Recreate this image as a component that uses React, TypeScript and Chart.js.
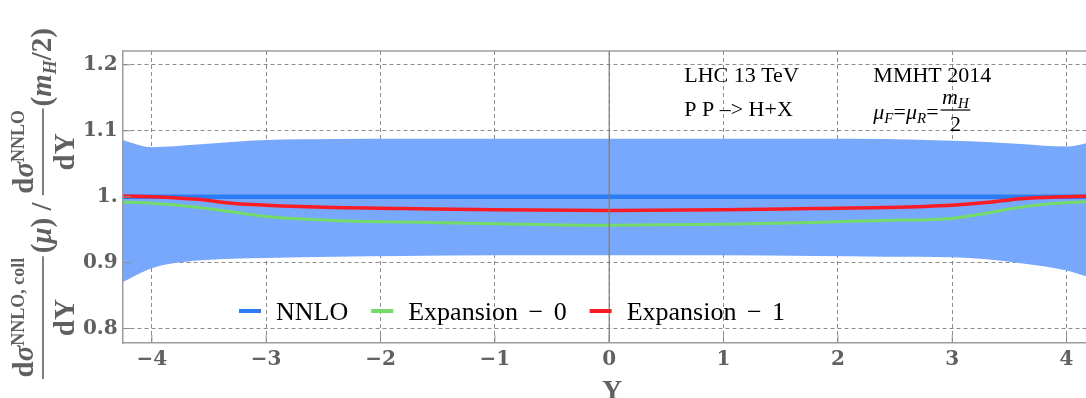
import React, { useEffect, useRef } from 'react';
import { Chart, registerables } from 'chart.js';

Chart.register(...registerables);

// ---- data ----
const rapidity = [-4.26, -4, -3.6, -3.3, -3, -2.4, -1.8, -1, 0, 1, 1.8, 2.4, 3, 3.3, 3.6, 4, 4.26];
const bandUpper = [1.086, 1.075, 1.079, 1.083, 1.086, 1.0875, 1.088, 1.088, 1.088, 1.088, 1.088, 1.0875, 1.085, 1.083, 1.080, 1.076, 1.085];
const bandLower = [0.870, 0.8915, 0.903, 0.906, 0.907, 0.909, 0.910, 0.911, 0.911, 0.911, 0.910, 0.909, 0.908, 0.905, 0.899, 0.888, 0.874];
const nnlo = [1, 1, 1, 1, 1, 1, 1, 1, 1, 1, 1, 1, 1, 1, 1, 1, 1];
const expansion0 = [0.992, 0.990, 0.984, 0.977, 0.970, 0.964, 0.9615, 0.959, 0.9565, 0.958, 0.961, 0.964, 0.967, 0.975, 0.984, 0.991, 0.993];
const expansion1 = [1.001, 1.000, 0.996, 0.990, 0.987, 0.9835, 0.982, 0.980, 0.979, 0.980, 0.982, 0.9835, 0.987, 0.991, 0.997, 1.000, 1.001];
const seriesLabels = ['NNLO', 'Expansion \u2212 0', 'Expansion \u2212 1'];
const xTickValues = [-4, -3, -2, -1, 0, 1, 2, 3, 4];
const xTickLabels = ['\u22124', '\u22123', '\u22122', '\u22121', '0', '1', '2', '3', '4'];
const yTickValues = [0.8, 0.9, 1.0, 1.1, 1.2];
const yTickLabels = ['0.8', '0.9', '1.', '1.1', '1.2'];
const infoLeft = ['LHC 13 TeV', 'P P \u2013> H+X'];
const infoRight = 'MMHT 2014';

// ---- styles ----
const BAND = 'rgb(120,168,252)';
const BLUE = 'rgb(44,124,246)';
const GREEN = 'rgb(116,218,104)';
const RED = 'rgb(250,28,36)';
const TXT = '#606060';
const FRAME = '#9c9c9c';
const SERIF = '"Liberation Serif", "Times New Roman", serif';

const pts = (ys: number[]) => rapidity.map((x, i) => ({ x, y: ys[i] }));

function drawLine(ctx: CanvasRenderingContext2D, x1: number, y1: number, x2: number, y2: number) {
  ctx.beginPath();
  ctx.moveTo(x1, y1);
  ctx.lineTo(x2, y2);
  ctx.stroke();
}

type Run = { t: string; f: string; dy?: number };
function runWidth(ctx: CanvasRenderingContext2D, runs: Run[]) {
  let w = 0;
  for (const r of runs) { ctx.font = r.f; w += ctx.measureText(r.t).width; }
  return w;
}
function drawRuns(ctx: CanvasRenderingContext2D, runs: Run[], x: number, y: number) {
  for (const r of runs) {
    ctx.font = r.f;
    ctx.fillText(r.t, x, y + (r.dy || 0));
    x += ctx.measureText(r.t).width;
  }
  return x;
}
function drawFraction(ctx: CanvasRenderingContext2D, num: Run[], den: Run[], x: number, barY: number, numBase: number, denBase: number, barW: number) {
  const wn = runWidth(ctx, num);
  const wd = runWidth(ctx, den);
  const len = Math.max(wn, wd) + 3;
  drawRuns(ctx, num, x + (len - wn) / 2, barY + numBase);
  drawRuns(ctx, den, x + (len - wd) / 2, barY + denBase);
  ctx.fillRect(x, barY - barW / 2, len, barW);
  return x + len;
}

const decorPlugin = {
  id: 'decor',
  afterDatasetsDraw(chart: any) {
    const { ctx, chartArea: a, scales } = chart;
    const xs = scales.x, ys = scales.y;
    ctx.save();
    const x0 = xs.getPixelForValue(0);
    ctx.strokeStyle = '#7c7c7c';
    ctx.lineWidth = 1.2;
    drawLine(ctx, x0, a.top, x0, a.bottom);
    ctx.strokeStyle = FRAME;
    ctx.lineWidth = 1.5;
    drawLine(ctx, a.left, a.top, a.right, a.top);
    ctx.strokeStyle = '#8c8c8c';
    ctx.lineWidth = 1;
    xs.ticks.forEach((t: any) => {
      const p = xs.getPixelForValue(t.value);
      drawLine(ctx, p, a.bottom, p, a.bottom - 8);
    });
    ys.ticks.forEach((t: any) => {
      const p = ys.getPixelForValue(t.value);
      drawLine(ctx, a.left, p, a.left + 8, p);
    });
    ctx.restore();
  },
  afterDraw(chart: any) {
    const { ctx, chartArea: a, scales } = chart;
    const xs = scales.x, ys = scales.y;
    ctx.save();
    ctx.textAlign = 'left';
    ctx.textBaseline = 'alphabetic';

    // info text
    ctx.fillStyle = '#000';
    ctx.font = `22px ${SERIF}`;
    const lx = xs.getPixelForValue(0.656);
    ctx.fillText(infoLeft[0], lx, ys.getPixelForValue(1.1746));
    ctx.fillText(infoLeft[1], lx, ys.getPixelForValue(1.1224));
    const rx = xs.getPixelForValue(2.31);
    ctx.fillText(infoRight, rx, ys.getPixelForValue(1.1746));
    const R = `22px ${SERIF}`, I = `italic 22px ${SERIF}`, IS = `italic 15px ${SERIF}`;
    const by = ys.getPixelForValue(1.1178);
    let cx = drawRuns(ctx, [
      { t: '\u03bc', f: I }, { t: 'F', f: IS, dy: 4 }, { t: '=', f: R },
      { t: '\u03bc', f: I }, { t: 'R', f: IS, dy: 4 }, { t: '=', f: R },
    ], rx, by);
    drawFraction(ctx, [{ t: 'm', f: I }, { t: 'H', f: IS, dy: 4 }], [{ t: '2', f: R }], cx + 2, by - 9, -6, 21, 1.2);

    // legend
    const colors = [BLUE, GREEN, RED];
    const legY = a.bottom - 32;
    let px = 239;
    ctx.font = `26px ${SERIF}`;
    (ctx as any).wordSpacing = '4px';
    for (let i = 0; i < seriesLabels.length; i++) {
      ctx.strokeStyle = colors[i];
      ctx.lineWidth = 4;
      drawLine(ctx, px, legY, px + 22, legY);
      ctx.fillStyle = '#000';
      ctx.fillText(seriesLabels[i], px + 37, legY + 8.5);
      px += 37 + ctx.measureText(seriesLabels[i]).width + 23;
    }
    (ctx as any).wordSpacing = '0px';

    // x title
    ctx.fillStyle = TXT;
    ctx.font = `bold 28px ${SERIF}`;
    ctx.textAlign = 'center';
    ctx.fillText('Y', xs.getPixelForValue(0) + 3, 399);
    ctx.textAlign = 'left';

    // y title (rotated)
    ctx.translate(43, 380);
    ctx.rotate(-Math.PI / 2);
    const B = `bold 29px ${SERIF}`, BI = `italic bold 29px ${SERIF}`, BS = `bold 18px ${SERIF}`, BIS = `italic bold 18px ${SERIF}`;
    let tx = 1;
    tx = drawFraction(ctx,
      [{ t: 'd', f: B }, { t: '\u03c3', f: BI }, { t: 'NNLO, coll', f: BS, dy: -9 }],
      [{ t: 'dY', f: B }], tx, 0, -10, 31, 1.6);
    tx = drawRuns(ctx, [{ t: '(', f: B }, { t: '\u03bc', f: BI }, { t: ')', f: B }, { t: ' / ', f: B }], tx + 3, 8);
    tx = drawFraction(ctx,
      [{ t: 'd', f: B }, { t: '\u03c3', f: BI }, { t: 'NNLO', f: BS, dy: -9 }],
      [{ t: 'dY', f: B }], tx, 0, -10, 31, 1.6);
    drawRuns(ctx, [{ t: '(', f: B }, { t: 'm', f: BI }, { t: 'H', f: BIS, dy: 5 }, { t: '/2)', f: B }], tx + 2, 8);
    ctx.restore();
  },
};

export default function App() {
  const ref = useRef<HTMLCanvasElement>(null);
  useEffect(() => {
    if (!ref.current) return;
    const lineDs = (label: string, data: number[], color: string, w: number, order: number) => ({
      label, data: pts(data), borderColor: color, borderWidth: w, pointRadius: 0, fill: false,
      cubicInterpolationMode: 'monotone' as const, clip: 0, order,
    });
    const chart = new Chart(ref.current, {
      type: 'line',
      data: {
        datasets: [
          { label: 'band lower', data: pts(bandLower), borderColor: 'rgba(0,0,0,0)', borderWidth: 1, pointRadius: 0, fill: false, cubicInterpolationMode: 'monotone', clip: 0, order: 10 },
          { label: 'band upper', data: pts(bandUpper), borderColor: 'rgba(0,0,0,0)', borderWidth: 1, pointRadius: 0, fill: '-1', backgroundColor: BAND, cubicInterpolationMode: 'monotone', clip: 0, order: 9 },
          lineDs(seriesLabels[0], nnlo, BLUE, 4.5, 3),
          lineDs(seriesLabels[1], expansion0, GREEN, 3, 2),
          lineDs(seriesLabels[2], expansion1, RED, 3.5, 1),
        ] as any,
      },
      options: {
        animation: false,
        responsive: false,
        devicePixelRatio: 1,
        layout: { padding: { top: 51, left: 0, right: 0, bottom: 0 } },
        plugins: { legend: { display: false }, tooltip: { enabled: false }, title: { display: false } },
        elements: { point: { radius: 0 } },
        scales: {
          x: {
            type: 'linear', min: -4.255, max: 4.17,
            afterFit: (s: any) => { s.height = 55; },
            afterBuildTicks: (s: any) => { s.ticks = xTickValues.map((v) => ({ value: v })); },
            ticks: {
              includeBounds: false, stepSize: 1, maxRotation: 0, autoSkip: false, padding: 5,
              color: TXT, font: { family: 'DejaVu Serif', size: 20, weight: 'bold' },
              callback: (v: any) => { const i = xTickValues.findIndex((t) => Math.abs(t - v) < 1e-6); return i >= 0 ? xTickLabels[i] : ''; },
            },
            grid: { color: 'rgba(120,120,120,0.85)', lineWidth: 1, drawTicks: false },
            border: { display: true, color: FRAME, width: 1.5, dash: [4, 3], z: 1 },
          },
          y: {
            type: 'linear', min: 0.778, max: 1.221,
            afterFit: (s: any) => { s.width = 122.7; },
            afterBuildTicks: (s: any) => { s.ticks = yTickValues.map((v) => ({ value: v })); },
            ticks: {
              includeBounds: false, stepSize: 0.1, padding: 5,
              color: TXT, font: { family: 'DejaVu Serif', size: 20, weight: 'bold' },
              callback: (v: any) => { const i = yTickValues.findIndex((t) => Math.abs(t - v) < 1e-6); return i >= 0 ? yTickLabels[i] : ''; },
            },
            grid: { color: 'rgba(120,120,120,0.85)', lineWidth: 1, drawTicks: false },
            border: { display: true, color: FRAME, width: 1.5, dash: [4, 3], z: 1 },
          },
        },
      } as any,
      plugins: [decorPlugin],
    });
    return () => chart.destroy();
  }, []);
  return (
    <div style={{ position: 'absolute', left: 0, top: 0, width: 1086, height: 398, background: '#fff' }}>
      <canvas ref={ref} width={1086} height={398} style={{ display: 'block' }} />
    </div>
  );
}
